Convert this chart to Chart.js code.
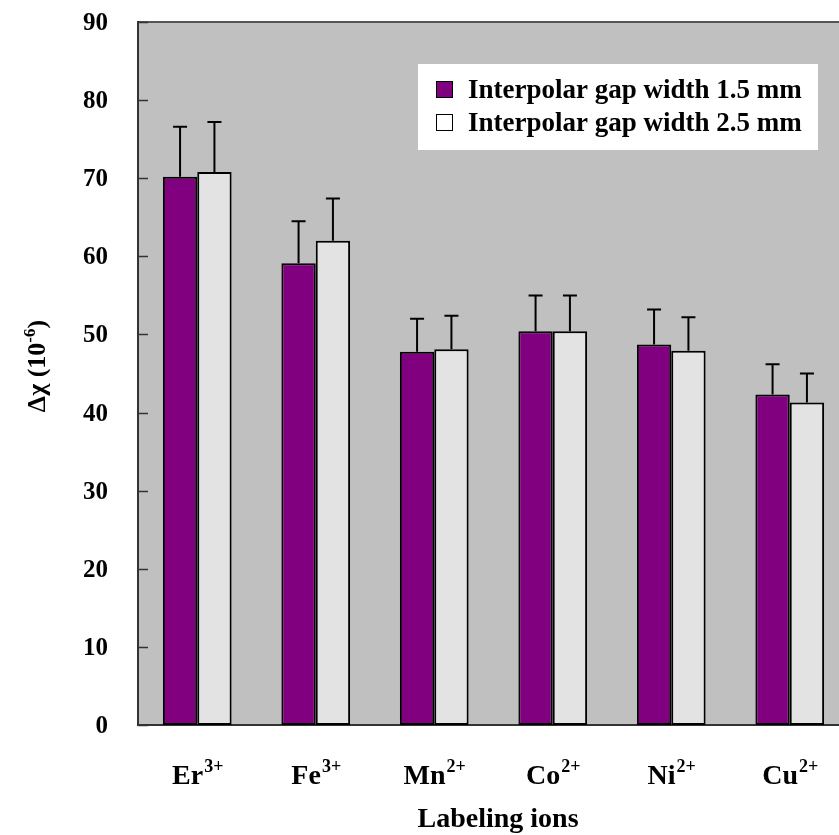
<!DOCTYPE html>
<html>
<head>
<meta charset="utf-8">
<script src="https://cdn.jsdelivr.net/npm/chart.js@4/dist/chart.umd.min.js"></script>
<style>
  html, body { margin: 0; padding: 0; background: #fff; overflow: hidden; }
  #wrap { width: 850px; height: 835px; }
</style>
</head>
<body>
<div id="wrap"><canvas id="chartCanvas" width="850" height="835"></canvas></div>
<script>
// ions on the x axis: base symbol + charge (drawn as superscript)
const ionNames = ['Er', 'Fe', 'Mn', 'Co', 'Ni', 'Cu'];
const ionCharges = ['3+', '3+', '2+', '2+', '2+', '2+'];

const seriesNames = ['Interpolar gap width 1.5 mm', 'Interpolar gap width 2.5 mm'];
const gap15 = [70.2, 59.1, 47.8, 50.4, 48.7, 42.3];
const gap25 = [70.8, 62.0, 48.1, 50.4, 47.9, 41.3];
// upper end of the error bars
const gap15Err = [76.6, 64.5, 52.0, 55.0, 53.2, 46.2];
const gap25Err = [77.2, 67.4, 52.4, 55.0, 52.2, 45.0];

const yTicks = [0, 10, 20, 30, 40, 50, 60, 70, 80, 90];

const FONT = "'Liberation Serif', 'Times New Roman', serif";

// background, ticks, error bars, labels and legend
const decorations = {
    id: 'decorations',
    beforeDraw(chart) {
        const { ctx, chartArea: a } = chart;
        ctx.save();
        ctx.fillStyle = '#c0c0c0';
        ctx.fillRect(a.left, a.top, a.right - a.left, a.bottom - a.top);
        ctx.strokeStyle = '#555';
        ctx.lineWidth = 2;
        ctx.beginPath();
        ctx.moveTo(a.left, a.top);
        ctx.lineTo(a.right, a.top);
        ctx.stroke();
        ctx.restore();
    },
    beforeDatasetsDraw(chart) {
        const { ctx, chartArea: a, scales } = chart;
        ctx.save();
        ctx.strokeStyle = '#333';
        ctx.lineWidth = 1.5;
        ctx.fillStyle = '#000';
        ctx.font = 'bold 25px ' + FONT;
        ctx.textAlign = 'right';
        ctx.textBaseline = 'middle';
        yTicks.forEach(v => {
            const y = Math.round(scales.y.getPixelForValue(v)) + 0.5;
            ctx.beginPath();
            ctx.moveTo(a.left, y);
            ctx.lineTo(a.left + 10, y);
            ctx.stroke();
            ctx.fillText(String(v), a.left - 30, y + 1);
        });
        ctx.restore();
    },
    afterDatasetsDraw(chart) {
        const { ctx, scales } = chart;
        const errs = [gap15Err, gap25Err];
        ctx.save();
        ctx.strokeStyle = '#000';
        ctx.lineWidth = 2;
        chart.data.datasets.forEach((ds, di) => {
            const meta = chart.getDatasetMeta(di);
            meta.data.forEach((bar, i) => {
                const x = bar.x;
                const yTop = scales.y.getPixelForValue(errs[di][i]);
                ctx.beginPath();
                ctx.moveTo(x, bar.y);
                ctx.lineTo(x, yTop);
                ctx.moveTo(x - 7, yTop);
                ctx.lineTo(x + 7, yTop);
                ctx.stroke();
            });
        });

        // x category labels with superscript charge
        ctx.fillStyle = '#000';
        ctx.textBaseline = 'alphabetic';
        ionNames.forEach((name, i) => {
            const cx = scales.x.getPixelForValue(i);
            ctx.font = 'bold 28px ' + FONT;
            const w1 = ctx.measureText(name).width;
            ctx.font = 'bold 18px ' + FONT;
            const w2 = ctx.measureText(ionCharges[i]).width;
            const x0 = cx - (w1 + w2) / 2;
            ctx.font = 'bold 28px ' + FONT;
            ctx.textAlign = 'left';
            ctx.fillText(name, x0, 784);
            ctx.font = 'bold 18px ' + FONT;
            ctx.fillText(ionCharges[i], x0 + w1 + 1, 772);
        });

        // x axis title
        ctx.font = 'bold 28px ' + FONT;
        ctx.textAlign = 'center';
        ctx.fillText('Labeling ions', 498, 827);

        // y axis title, rotated
        ctx.save();
        ctx.translate(45, 366);
        ctx.rotate(-Math.PI / 2);
        ctx.font = 'bold 26px ' + FONT;
        const t1 = 'Δχ (10';
        const w1 = ctx.measureText(t1).width;
        ctx.font = 'bold 17px ' + FONT;
        const w2 = ctx.measureText('-6').width;
        ctx.font = 'bold 26px ' + FONT;
        const w3 = ctx.measureText(')').width;
        let x = -(w1 + w2 + w3) / 2;
        ctx.textAlign = 'left';
        ctx.fillText(t1, x, 0);
        ctx.font = 'bold 17px ' + FONT;
        ctx.fillText('-6', x + w1, -10);
        ctx.font = 'bold 26px ' + FONT;
        ctx.fillText(')', x + w1 + w2, 0);
        ctx.restore();

        // legend box
        ctx.fillStyle = '#fff';
        ctx.fillRect(418, 64, 400, 86);
        chart.data.datasets.forEach((ds, di) => {
            const y = 81 + di * 33;
            ctx.fillStyle = di === 1 ? '#fff' : ds.backgroundColor;
            ctx.fillRect(436, y, 17, 17);
            ctx.strokeStyle = '#000';
            ctx.lineWidth = 1;
            ctx.strokeRect(436.5, y + 0.5, 16, 16);
            ctx.fillStyle = '#000';
            ctx.font = 'bold 27px ' + FONT;
            ctx.textAlign = 'left';
            ctx.fillText(ds.label, 468, y + 17);
        });
        ctx.restore();
    }
};

new Chart(document.getElementById('chartCanvas').getContext('2d'), {
    type: 'bar',
    data: {
        labels: ionNames,
        datasets: [{
            label: seriesNames[0],
            data: gap15,
            backgroundColor: '#800080',
            borderColor: '#000',
            borderWidth: 2,
            borderSkipped: false
        }, {
            label: seriesNames[1],
            data: gap25,
            backgroundColor: '#e3e3e3',
            borderColor: '#000',
            borderWidth: 2,
            borderSkipped: false
        }]
    },
    options: {
        responsive: false,
        animation: false,
        layout: { padding: { top: 22, right: 1, left: 0, bottom: 0 } },
        plugins: { legend: { display: false }, tooltip: { enabled: false } },
        datasets: { bar: { barPercentage: 1.0, categoryPercentage: 0.58 } },
        scales: {
            x: {
                ticks: { display: false },
                grid: { display: false, drawTicks: false },
                border: { display: true, color: '#333', width: 2 },
                afterFit: s => { s.height = 110; }
            },
            y: {
                min: 0,
                max: 90,
                ticks: { display: false, stepSize: 10 },
                grid: { display: false, drawTicks: false },
                border: { display: true, color: '#333', width: 2 },
                afterFit: s => { s.width = 138; }
            }
        }
    },
    plugins: [decorations]
});
</script>
</body>
</html>
